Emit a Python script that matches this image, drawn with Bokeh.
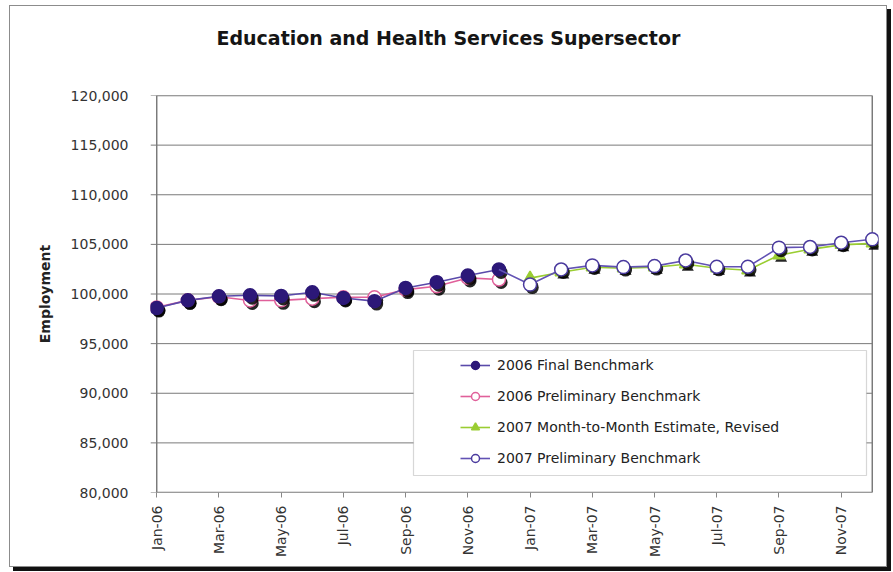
from math import pi
from bokeh.plotting import figure
from bokeh.models import (ColumnDataSource, Range1d, FixedTicker, Title,
                          BoxAnnotation, Legend, LegendItem, NumeralTickFormatter)
from bokeh.transform import dodge
from bokeh.embed import file_html
from bokeh.resources import INLINE

# ---- data -------------------------------------------------------------
months = ["Jan-06", "Feb-06", "Mar-06", "Apr-06", "May-06", "Jun-06",
          "Jul-06", "Aug-06", "Sep-06", "Oct-06", "Nov-06", "Dec-06",
          "Jan-07", "Feb-07", "Mar-07", "Apr-07", "May-07", "Jun-07",
          "Jul-07", "Aug-07", "Sep-07", "Oct-07", "Nov-07", "Dec-07"]

final_2006 = [98580, 99360, 99770, 99870, 99800, 100170,
              99600, 99280, 100610, 101190, 101860, 102470]
prelim_2006 = [98650, 99360, 99720, 99350, 99360, 99530,
               99670, 99670, 100440, 100780, 101620, 101460]
estimate_2007 = [101600, 102200, 102700, 102600, 102700, 103000,
                 102600, 102400, 103900, 104500, 104950, 105100]
prelim_2007 = [100950, 102470, 102880, 102710, 102810, 103380,
               102740, 102740, 104670, 104740, 105170, 105510]

y_ticks = [80000, 85000, 90000, 95000, 100000, 105000, 110000, 115000, 120000]
x_ticks = list(range(0, len(months), 2))

idx_2006 = list(range(12))
idx_2007 = list(range(12, 24))

FONT = "DejaVu Sans"
PAD = 0.2  # months of padding so end markers are not cut by the frame

# ---- figure -----------------------------------------------------------
p = figure(frame_width=728, frame_height=397,
           min_border_left=140, min_border_right=8,
           min_border_top=89, min_border_bottom=74,
           x_range=Range1d(-PAD, len(months) - 1 + PAD),
           y_range=Range1d(y_ticks[0], y_ticks[-1]),
           output_backend="svg", toolbar_location=None,
           background_fill_color="white", border_fill_color="white")
p.outline_line_color = None
p.xgrid.visible = False
p.ygrid.visible = False

# outer chart frame with a drop shadow
p.styles = {"margin-left": "9px", "margin-top": "5px",
            "border": "1px solid #8c8c8c",
            "box-shadow": "4px 4px 0px 0px #111111"}

# blank band between the title and the plot area, then the title itself
p.add_layout(Title(text=" ", text_font_size="12px", standoff=10), "above")
p.add_layout(Title(text="Education and Health Services Supersector",
                   align="left", vertical_align="top", offset=66, standoff=38,
                   text_font=FONT, text_font_style="bold",
                   text_font_size="19px", text_color="#151515"), "above")

# y axis
p.yaxis.ticker = FixedTicker(ticks=y_ticks)
p.yaxis.formatter = NumeralTickFormatter(format="0,0")
p.yaxis.axis_line_color = None
p.yaxis.major_tick_line_color = None
p.yaxis.minor_tick_line_color = None
p.yaxis.major_label_standoff = 16
p.yaxis.major_label_text_font = FONT
p.yaxis.major_label_text_font_size = "14px"
p.yaxis.major_label_text_color = "#333333"
p.yaxis.axis_label = "Employment"
p.yaxis.axis_label_text_font = FONT
p.yaxis.axis_label_text_font_style = "bold"
p.yaxis.axis_label_text_font_size = "14px"
p.yaxis.axis_label_text_color = "#222222"
p.yaxis.axis_label_standoff = 15

# x axis
p.xaxis.ticker = FixedTicker(ticks=x_ticks)
p.xaxis.major_label_overrides = {i: months[i] for i in x_ticks}
p.xaxis.major_label_orientation = pi / 2
p.xaxis.axis_line_color = None
p.xaxis.major_tick_in = 0
p.xaxis.major_tick_out = 5
p.xaxis.major_tick_line_color = "#888888"
p.xaxis.minor_tick_line_color = None
p.xaxis.major_label_standoff = 8
p.xaxis.major_label_text_font = FONT
p.xaxis.major_label_text_font_size = "14px"
p.xaxis.major_label_text_color = "#333333"

# horizontal gridlines, running a little past the left edge as tick marks
p.segment(x0=[-PAD] * len(y_ticks), x1=[len(months) - 1] * len(y_ticks),
          y0=y_ticks, y1=y_ticks, line_color="#7a7a7a", line_width=1)
# plot-area box
p.quad(left=0, right=len(months) - 1, bottom=y_ticks[0], top=y_ticks[-1],
       fill_alpha=0, line_color="#7a7a7a", line_width=1.5)

SH_X, SH_Y = 0.07, -300  # drop-shadow offset in data units


def series(xs, ys, line_color, marker, fill, outline, size, line_xs=None, line_ys=None):
    src = ColumnDataSource(dict(x=xs, y=ys))
    lsrc = ColumnDataSource(dict(x=line_xs if line_xs else xs,
                                 y=line_ys if line_ys else ys))
    ln = p.line("x", "y", source=lsrc, line_color=line_color, line_width=1.6)
    p.scatter(x=dodge("x", SH_X), y=dodge("y", SH_Y), source=src, marker=marker,
              size=size, fill_color="#000000", fill_alpha=0.85, line_color=None)
    sc = p.scatter("x", "y", source=src, marker=marker, size=size,
                   fill_color=fill, line_color=outline, line_width=1.5)
    return ln, sc


pink = series(idx_2006, prelim_2006, "#e0609a", "circle", "white", "#e0609a", 13)
final = series(idx_2006, final_2006, "#5a4aaa", "circle", "#2c1878", "#2c1878", 13)
green = series(idx_2007, estimate_2007, "#9acd32", "triangle", "#9acd32", "#9acd32", 12)
prel7 = series(idx_2007, prelim_2007, "#6252b4", "circle", "white", "#4a3a9e", 13,
               line_xs=[idx_2006[-1]] + idx_2007,
               line_ys=[final_2006[-1]] + prelim_2007)

# legend box and legend
p.add_layout(BoxAnnotation(left=263, right=716, top=142, bottom=17,
                           left_units="screen", right_units="screen",
                           top_units="screen", bottom_units="screen",
                           fill_color="white", fill_alpha=1.0,
                           line_color="#7a7a7a", line_width=1.2))
legend = Legend(items=[
    LegendItem(label="2006 Final Benchmark", renderers=list(final)),
    LegendItem(label="2006 Preliminary Benchmark", renderers=list(pink)),
    LegendItem(label="2007 Month-to-Month Estimate, Revised", renderers=list(green)),
    LegendItem(label="2007 Preliminary Benchmark", renderers=list(prel7)),
], location=(310, 24), padding=0, margin=0, spacing=11,
    glyph_width=30, glyph_height=20, label_height=20, label_standoff=7,
    border_line_alpha=0, background_fill_alpha=0,
    label_text_font=FONT, label_text_font_size="14px",
    label_text_color="#222222")
p.add_layout(legend, "center")

open("out.html", "w").write(file_html(p, INLINE))
